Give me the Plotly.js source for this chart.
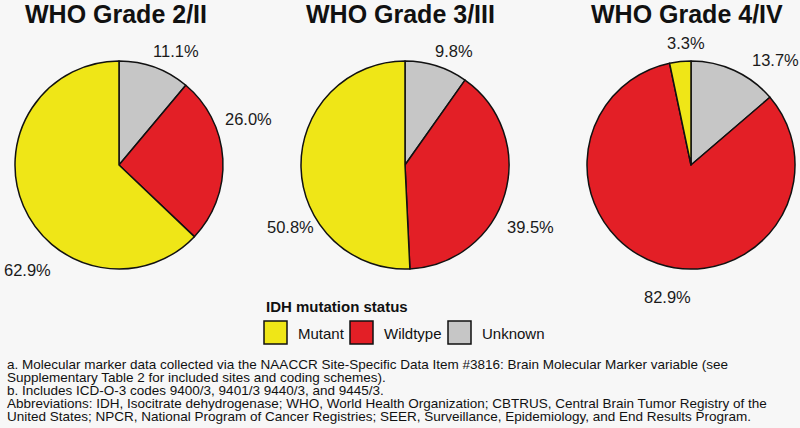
<!DOCTYPE html>
<html>
<head>
<meta charset="utf-8">
<script src="https://cdn.plot.ly/plotly-3.0.1.min.js"></script>
<style>html,body{margin:0;padding:0;background:#f7f7f7;}#chart{width:800px;height:428px;}</style>
</head>
<body>
<div id="chart"></div>
<script>
// ---- data ----
const categories = ["Mutant", "Wildtype", "Unknown"];
const gradeTitles = ["WHO Grade 2/II", "WHO Grade 3/III", "WHO Grade 4/IV"];
const grade2 = [62.9, 26.0, 11.1];
const grade3 = [50.8, 39.5, 9.8];
const grade4 = [3.3, 82.9, 13.7];
const legendTitle = "IDH mutation status";
const footnotes = [
  "a. Molecular marker data collected via the NAACCR Site-Specific Data Item #3816: Brain Molecular Marker variable (see",
  "Supplementary Table 2 for included sites and coding schemes).",
  "b. Includes ICD-O-3 codes 9400/3, 9401/3 9440/3, and 9445/3.",
  "Abbreviations: IDH, Isocitrate dehydrogenase; WHO, World Health Organization; CBTRUS, Central Brain Tumor Registry of the",
  "United States; NPCR, National Program of Cancer Registries; SEER, Surveillance, Epidemiology, and End Results Program."
];

// ---- styling / layout ----
const colors = ["#efe617", "#e31f26", "#c6c6c6"];
const W = 800, H = 428;
const px = x => x / W;
const py = y => 1 - y / H;
const series = [grade2, grade3, grade4];
const centers = [[119, 165], [405, 165], [691, 165]];
const R = 104;

// slices drawn clockwise from 12 o'clock: Unknown, Wildtype, Mutant
const rev = a => a.slice().reverse();
const traces = series.map((vals, i) => ({
  type: "pie",
  labels: rev(categories),
  values: rev(vals),
  sort: false,
  direction: "clockwise",
  rotation: 0,
  textinfo: "none",
  hoverinfo: "label+value",
  showlegend: false,
  marker: { colors: rev(colors), line: { color: "#111", width: 1.5 } },
  domain: {
    x: [px(centers[i][0] - R), px(centers[i][0] + R)],
    y: [py(centers[i][1] + R), py(centers[i][1] - R)]
  }
}));

const labelFont = { family: "Liberation Sans, Arial, sans-serif", size: 16.5, color: "#1a1a1a" };
// label positions (pixels) for each pie, in category order
const labelPos = [
  [[27, 270], [248, 119], [176, 51]],
  [[290, 227], [530, 227], [454, 51]],
  [[686, 43], [667, 297], [775, 60]]
];

const annotations = [];
gradeTitles.forEach((t, i) => {
  annotations.push({
    text: t, xref: "paper", yref: "paper", x: px([116, 400, 687][i]), y: py(14),
    xanchor: "center", yanchor: "middle", showarrow: false,
    font: { family: "Liberation Sans, Arial, sans-serif", size: 25, weight: "bold", color: "#111" }
  });
});
series.forEach((vals, i) => {
  vals.forEach((v, j) => {
    annotations.push({
      text: v.toFixed(1) + "%", xref: "paper", yref: "paper",
      x: px(labelPos[i][j][0]), y: py(labelPos[i][j][1]),
      xanchor: "center", yanchor: "middle", showarrow: false, font: labelFont
    });
  });
});
// legend
annotations.push({
  text: legendTitle, xref: "paper", yref: "paper", x: px(264), y: py(306),
  xanchor: "left", yanchor: "middle", showarrow: false,
  font: { family: "Liberation Sans, Arial, sans-serif", size: 15, weight: "bold", color: "#111" }
});
const boxX = [264, 350, 448];
const shapes = [];
categories.forEach((c, j) => {
  shapes.push({
    type: "rect", xref: "paper", yref: "paper",
    x0: px(boxX[j]), x1: px(boxX[j] + 23), y0: py(344), y1: py(321),
    fillcolor: colors[j], line: { color: "#111", width: 1.5 }
  });
  annotations.push({
    text: c, xref: "paper", yref: "paper", x: px(boxX[j] + 32), y: py(333),
    xanchor: "left", yanchor: "middle", showarrow: false,
    font: { family: "Liberation Sans, Arial, sans-serif", size: 15, color: "#111" }
  });
});
// footnotes
const noteY = [364.5, 377.6, 390.7, 403.8, 416.9];
footnotes.forEach((f, k) => {
  annotations.push({
    text: f, xref: "paper", yref: "paper", x: px(5), y: py(noteY[k]),
    xanchor: "left", yanchor: "middle", showarrow: false,
    font: { family: "Liberation Sans, Arial, sans-serif", size: 13.5, color: "#111" }
  });
});

const layout = {
  width: W, height: H,
  margin: { l: 0, r: 0, t: 0, b: 0 },
  paper_bgcolor: "#f7f7f7",
  plot_bgcolor: "#f7f7f7",
  showlegend: false,
  annotations: annotations,
  shapes: shapes
};

Plotly.newPlot("chart", traces, layout, { displayModeBar: false, staticPlot: true });
</script>
</body>
</html>
